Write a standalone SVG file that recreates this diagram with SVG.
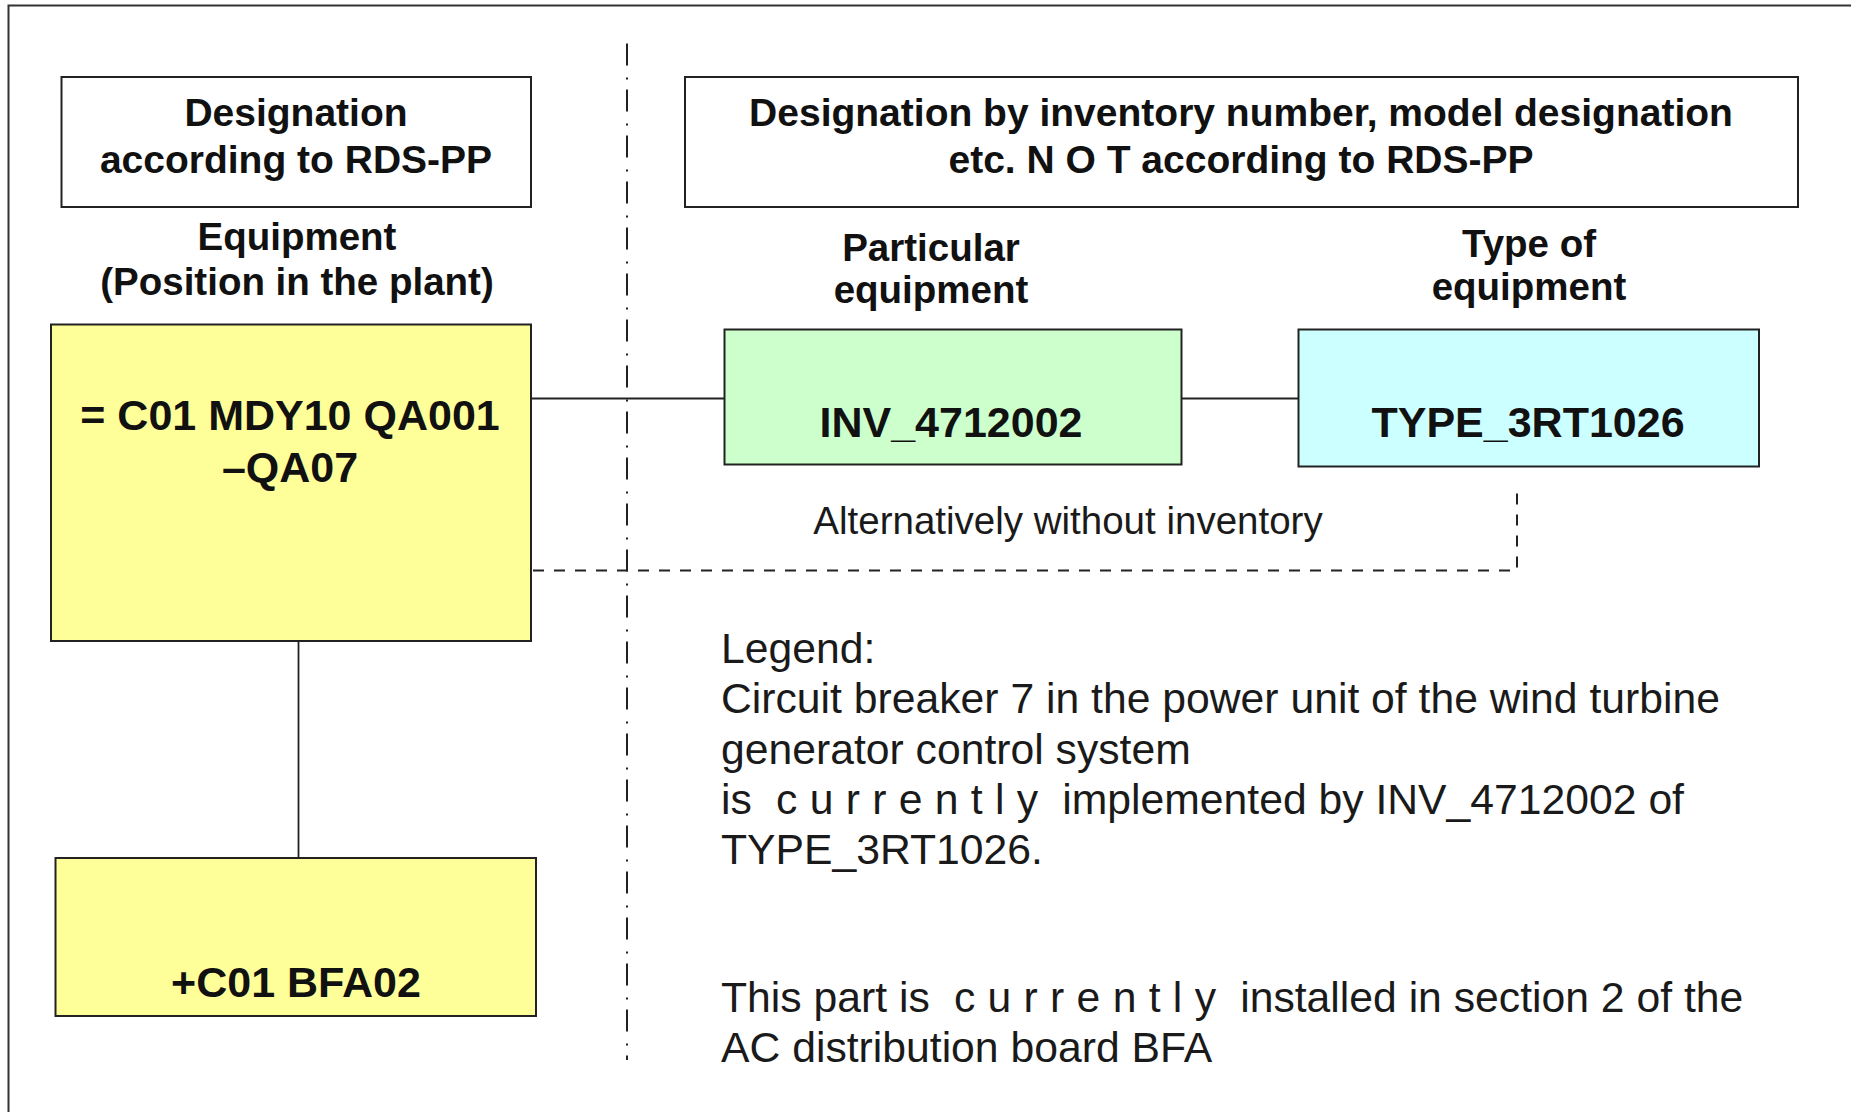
<svg xmlns="http://www.w3.org/2000/svg" width="1851" height="1112" viewBox="0 0 1851 1112">
<style>
.box{stroke:#222;stroke-width:2}
.hdr{fill:#fff}
.yel{fill:#FFFF99}
.grn{fill:#CCFFCC}
.cyn{fill:#CCFFFF}
.b{font-family:"Liberation Sans",Arial,sans-serif;font-weight:bold;font-size:38.5px;fill:#111;text-anchor:middle}
.h{font-size:39px}
.bb{font-family:"Liberation Sans",Arial,sans-serif;font-weight:bold;font-size:43px;fill:#111;text-anchor:middle}
.r{font-family:"Liberation Sans",Arial,sans-serif;font-size:42.7px;fill:#1a1a1a}
.alt{font-family:"Liberation Sans",Arial,sans-serif;font-size:38.5px;fill:#1a1a1a;text-anchor:middle}
.sp{letter-spacing:12.3px}
.line{stroke:#222;stroke-width:1.8;fill:none}
.dash{stroke:#222;stroke-width:2;fill:none;stroke-dasharray:11 10}
.dashdot{stroke:#222;stroke-width:2;fill:none;stroke-dasharray:22 12 2 10}
</style>
<rect width="1851" height="1112" fill="#fff"/>
<path d="M8.5 1112 V5.5 H1851" fill="none" stroke="#333" stroke-width="2"/>

<g id="connectors">
<line class="dashdot" x1="627" y1="43.5" x2="627" y2="1060"/>
<line class="line" x1="531" y1="398.5" x2="724" y2="398.5"/>
<line class="line" x1="1182" y1="398.5" x2="1298" y2="398.5"/>
<line class="line" x1="298.5" y1="641" x2="298.5" y2="858"/>
<polyline class="dash" points="533,570.5 1517,570.5 1517,489"/>
</g>

<g id="hdr-rds">
<rect class="box hdr" x="61.5" y="77" width="469.5" height="130"/>
<text class="b h" x="296" y="126">Designation</text>
<text class="b h" x="296" y="173">according to RDS-PP</text>
</g>

<g id="hdr-not-rds">
<rect class="box hdr" x="685" y="77" width="1113" height="130"/>
<text class="b h" x="1241" y="126">Designation by inventory number, model designation</text>
<text class="b h" x="1241" y="173">etc. N O T according to RDS-PP</text>
</g>

<g id="lbl-equipment">
<text class="b" x="297" y="250">Equipment</text>
<text class="b" x="297" y="295">(Position in the plant)</text>
</g>

<g id="lbl-particular">
<text class="b" x="931" y="261">Particular</text>
<text class="b" x="931" y="303">equipment</text>
</g>

<g id="lbl-type">
<text class="b" x="1529" y="257">Type of</text>
<text class="b" x="1529" y="300">equipment</text>
</g>

<g id="node-qa07">
<rect class="box yel" x="51" y="324.5" width="480" height="316.5"/>
<text class="bb" x="290" y="430">= C01 MDY10 QA001</text>
<text class="bb" x="290" y="482">–QA07</text>
</g>

<g id="node-inv">
<rect class="box grn" x="724.5" y="329.5" width="457" height="135"/>
<text class="bb" x="951" y="437">INV_4712002</text>
</g>

<g id="node-type">
<rect class="box cyn" x="1298.5" y="329.5" width="460.5" height="137"/>
<text class="bb" x="1528" y="437">TYPE_3RT1026</text>
</g>

<g id="node-bfa">
<rect class="box yel" x="55.5" y="858" width="480.5" height="158"/>
<text class="bb" x="296" y="997">+C01 BFA02</text>
</g>

<g id="lbl-alt">
<text class="alt" x="1068" y="534">Alternatively without inventory</text>
</g>

<g id="legend">
<text class="r" x="721" y="663">Legend:</text>
<text class="r" x="721" y="713">Circuit breaker 7 in the power unit of the wind turbine</text>
<text class="r" x="721" y="764">generator control system</text>
<text class="r" x="721" y="814">is<tspan class="sp"> currently</tspan> implemented by INV_4712002 of</text>
<text class="r" x="721" y="864">TYPE_3RT1026.</text>
<text class="r" x="721" y="1012">This part is<tspan class="sp"> currently</tspan> installed in section 2 of the</text>
<text class="r" x="721" y="1062">AC distribution board BFA</text>
</g>
</svg>
